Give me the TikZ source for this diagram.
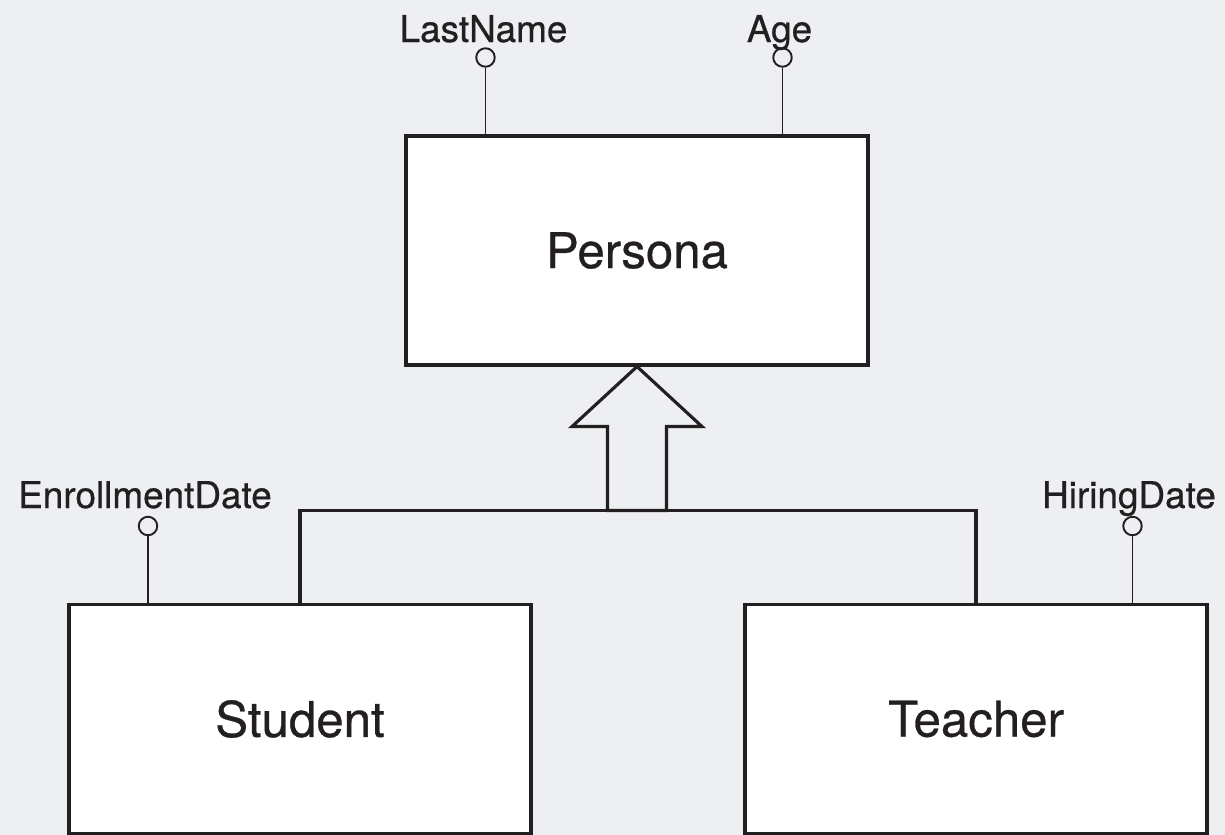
\documentclass[tikz,border=0pt]{standalone}
\usepackage{fontspec}
\setmainfont[FakeBold=0.6]{TeX Gyre Heros}
\usetikzlibrary{calc}
\usetikzlibrary{positioning}
\definecolor{bgcolor}{RGB}{238,239,242}
\definecolor{inkcolor}{RGB}{35,31,32}

\begin{document}
\begin{tikzpicture}
		[
		x=0.02cm, y=-0.02cm,
		font=\fontsize{28}{32}\selectfont,
		line join=miter
		]
		
		% Entity boxes, attribute pins and their labels
		\tikzstyle{entity}=[rectangle,draw=inkcolor,fill=white,line width=1.8pt,minimum width=9.24cm,minimum height=4.58cm,text=inkcolor,inner sep=0pt];
		\tikzstyle{pin}=[circle,draw=inkcolor,line width=1.1pt,minimum size=0.37cm,inner sep=0pt];
		\tikzstyle{attr}=[anchor=base,inner sep=0pt,text=inkcolor,font=\fontsize{21}{24}\selectfont];
		\tikzstyle{stem}=[draw=inkcolor,line width=1.1pt]
		\tikzstyle{link}=[draw=inkcolor,line width=1.8pt]
		
		% Background
		\fill[bgcolor] (0,0) rectangle (1225,835);
		\useasboundingbox (0,0) rectangle (1225,835);
		
		% The entities
		\node[entity](persona) at (637,250.5) {Persona};
		\node[entity](student) at (300,719) {Student};
		\node[entity](teacher) at (976,719) {Teacher};
		
		% Attributes of Persona
		\node[pin](lastnamePin) at (485.5,57.5) {};
		\node[pin](agePin) at (782.5,57.5) {};
		\draw[stem] (lastnamePin) -- (lastnamePin |- persona.north);
		\draw[stem] (agePin) -- (agePin |- persona.north);
		\node[attr](lastname) at (483.5,42) {LastName};
		\node[attr](age) at (779.5,42) {Age};
		
		% Attributes of Student and Teacher
		\node[pin](enrollPin) at (148,526) {};
		\node[pin](hiringPin) at (1132.5,526) {};
		\draw[stem] (enrollPin) -- (enrollPin |- student.north);
		\draw[stem] (hiringPin) -- (hiringPin |- teacher.north);
		\node[attr](enroll) at (145,508) {EnrollmentDate};
		\node[attr](hiring) at (1129,508) {HiringDate};
		
		% Generalization: hollow arrow up to Persona
		\coordinate (tail) at ($(persona.south)+(0,144)$);
		\draw[link] (persona.south) -- ++(-65,60) -- ++(35.5,0) -- ++(0,84)
			-- ++(59,0) -- ++(0,-84) -- ++(35.5,0) -- cycle;
		\draw[link] (student.north) |- (tail) -| (teacher.north);
		\end{tikzpicture}
\end{document}
